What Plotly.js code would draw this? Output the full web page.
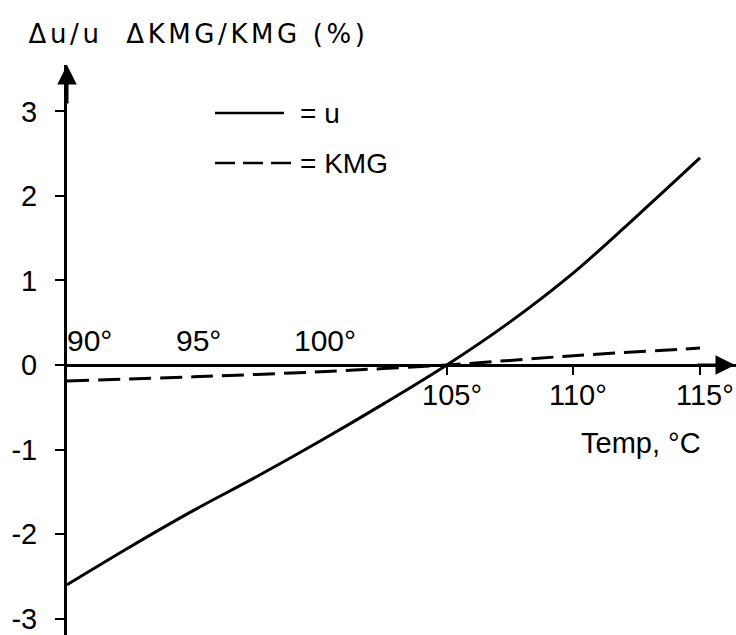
<!DOCTYPE html>
<html><head><meta charset="utf-8">
<script src="https://cdn.plot.ly/plotly-3.0.1.min.js"></script>
<style>
html,body{margin:0;padding:0;background:#fff}
#chart{width:736px;height:635px}
#chart .annotation[data-index="0"] text{letter-spacing:3.6px}
</style>
</head><body><div id="chart"></div>
<script>
// ---- data ----
const uTemps = [90, 92.5, 95, 97.5, 100, 102.5, 105, 107.5, 110, 112.5, 115];
const uValues = [-2.6, -2.15, -1.72, -1.32, -0.9, -0.46, 0.0, 0.51, 1.09, 1.76, 2.45];
const kmgTemps = [90, 95, 100, 105, 110, 115];
const kmgValues = [-0.19, -0.14, -0.08, 0.0, 0.11, 0.2];
const yTickVals = [-3, -2, -1, 0, 1, 2, 3];
const yTickText = ['-3', '-2', '-1', '0', '1', '2', '3'];
const xTicksAbove = [90, 95, 100];
const xLabelsAbove = ['90°', '95°', '100°'];
const xTicksBelow = [105, 110, 115];
const xLabelsBelow = ['105°', '110°', '115°'];
const seriesNames = ['= u', '= KMG'];
const titleText = 'Δu/u\u00a0\u00a0ΔKMG/KMG (%)';
const xAxisTitle = 'Temp, °C';

// ---- layout geometry ----
const W = 736, H = 635, L = 67, T = 65;
const pw = W - L, ph = H - T;
const xr = [90, 90 + pw / 25.32];
const yr = [-3.195, 3.55];
const px = x => (x - L) / pw;
const py = y => 1 - (y - T) / ph;
const zeroPos = (0 - yr[0]) / (yr[1] - yr[0]);

const sans = '"Liberation Sans", Arial, sans-serif';
const black = '#000';

const traces = [
  {x: uTemps, y: uValues, mode: 'lines', line: {color: black, width: 3, shape: 'spline', smoothing: 1}, showlegend: false, hoverinfo: 'skip'},
  {x: kmgTemps, y: kmgValues, mode: 'lines', line: {color: black, width: 3, dash: '22px,9px', shape: 'spline', smoothing: 0.6}, showlegend: false, hoverinfo: 'skip'}
];

const annotations = [];
// title (index 0, letter-spaced via CSS)
annotations.push({xref: 'paper', yref: 'paper', x: px(198), y: py(17), xanchor: 'center', yanchor: 'top', text: titleText, showarrow: false, font: {family: '"DejaVu Sans", sans-serif', size: 26, color: black}});
// x tick labels
xTicksAbove.forEach((v, i) => annotations.push({xref: 'x', yref: 'y', x: v, y: 0, xanchor: 'center', yanchor: 'bottom', xshift: (i === 0 ? 22 : 5), yshift: 6, text: xLabelsAbove[i], showarrow: false, font: {family: sans, size: 30, color: black}}));
xTicksBelow.forEach((v, i) => annotations.push({xref: 'x', yref: 'y', x: v, y: 0, xanchor: 'center', yanchor: 'top', xshift: 5, yshift: -12, text: xLabelsBelow[i], showarrow: false, font: {family: sans, size: 29, color: black}}));
// x axis title
annotations.push({xref: 'paper', yref: 'paper', x: px(579), y: py(425), xanchor: 'left', yanchor: 'top', text: xAxisTitle, showarrow: false, font: {family: sans, size: 29, color: black}});
// legend texts
annotations.push({xref: 'paper', yref: 'paper', x: px(298), y: py(113), xanchor: 'left', yanchor: 'middle', text: seriesNames[0], showarrow: false, font: {family: sans, size: 28, color: black}});
annotations.push({xref: 'paper', yref: 'paper', x: px(298), y: py(163), xanchor: 'left', yanchor: 'middle', text: seriesNames[1], showarrow: false, font: {family: sans, size: 28, color: black}});
// axis arrowheads
annotations.push({xref: 'x', yref: 'paper', x: xr[0], y: 1, ax: 0, ay: 40, text: '', showarrow: true, arrowhead: 2, arrowsize: 1.3, arrowwidth: 3, arrowcolor: black, standoff: 0});
annotations.push({xref: 'paper', yref: 'y', x: 1, y: 0, ax: -40, ay: 0, text: '', showarrow: true, arrowhead: 2, arrowsize: 1.3, arrowwidth: 3, arrowcolor: black, standoff: 0});

const shapes = [
  {type: 'line', xref: 'paper', yref: 'paper', x0: px(215), x1: px(284), y0: py(113), y1: py(113), line: {color: black, width: 2.5}},
  {type: 'line', xref: 'paper', yref: 'paper', x0: px(215), x1: px(291), y0: py(163), y1: py(163), line: {color: black, width: 2.5, dash: '20px,8px'}}
];

const layout = {
  width: W, height: H,
  margin: {l: L, r: 0, t: T, b: 0, pad: 0},
  paper_bgcolor: '#fff', plot_bgcolor: '#fff',
  showlegend: false,
  xaxis: {range: xr, anchor: 'free', position: zeroPos, showline: true, linewidth: 3, linecolor: black,
          ticks: 'outside', tickvals: xTicksBelow, ticklen: 8, tickwidth: 2, tickcolor: black,
          showticklabels: false, showgrid: false, zeroline: false, fixedrange: true},
  xaxis2: {range: xr, overlaying: 'x', anchor: 'free', position: zeroPos, showline: false,
          ticks: 'inside', tickvals: xTicksAbove.slice(1), ticklen: 8, tickwidth: 2, tickcolor: black,
          showticklabels: false, showgrid: false, zeroline: false, fixedrange: true},
  yaxis: {range: yr, showline: true, linewidth: 3, linecolor: black, ticks: 'outside', ticklen: 9, tickwidth: 2, tickcolor: black,
          tickvals: yTickVals, ticktext: yTickText, ticklabelstandoff: 12, tickfont: {family: sans, size: 29, color: black},
          showgrid: false, zeroline: false, fixedrange: true},
  annotations: annotations,
  shapes: shapes
};

Plotly.newPlot('chart', traces, layout, {staticPlot: true, displayModeBar: false});
</script>
</body></html>
